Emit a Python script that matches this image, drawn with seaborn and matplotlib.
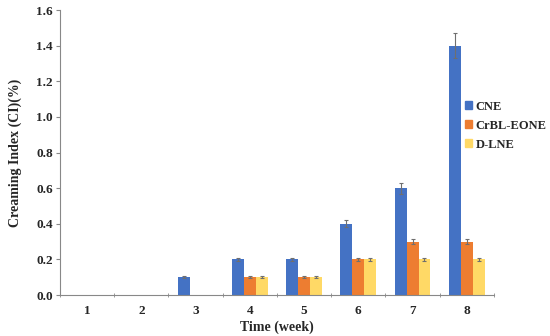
import pandas as pd
import matplotlib
matplotlib.use('Agg')
import matplotlib.pyplot as plt
import seaborn as sns

weeks = ['1', '2', '3', '4', '5', '6', '7', '8']
groups = ['CNE', 'CrBL-EONE', 'D-LNE']
cne = [0, 0, 0.1, 0.2, 0.2, 0.4, 0.6, 1.4]
crbl = [0, 0, 0, 0.1, 0.1, 0.2, 0.3, 0.3]
dlne = [0, 0, 0, 0.1, 0.1, 0.2, 0.2, 0.2]
cne_err = [0, 0, 0.004, 0.01, 0.01, 0.02, 0.03, 0.07]
crbl_err = [0, 0, 0, 0.004, 0.004, 0.01, 0.015, 0.015]
dlne_err = [0, 0, 0, 0.004, 0.004, 0.01, 0.01, 0.01]
colors = ['#4472C4', '#ED7D31', '#FFD966']

rows = []
for g, vals in zip(groups, [cne, crbl, dlne]):
    for w, v in zip(weeks, vals):
        rows.append({'week': w, 'group': g, 'ci': v})
df = pd.DataFrame(rows)

sns.set_style('ticks')
plt.rcParams['font.family'] = ['Liberation Serif', 'DejaVu Serif']
plt.rcParams['font.weight'] = 'bold'

fig = plt.figure(figsize=(5.5, 3.36), dpi=100)
ax = fig.add_axes([0.109, 0.122, 0.789, 0.848])
sns.barplot(data=df, x='week', y='ci', hue='group', order=weeks, hue_order=groups,
            palette=colors, width=0.66, linewidth=0, saturation=1, ax=ax, legend=False)

for cont, errs in zip(ax.containers, [cne_err, crbl_err, dlne_err]):
    for bar, e in zip(cont, errs):
        if bar.get_height() > 0:
            ax.errorbar(bar.get_x() + bar.get_width() / 2, bar.get_height(), yerr=e,
                        fmt='none', ecolor='#6f6f6f', elinewidth=0.8, capsize=1.5, capthick=0.8)

ax.set_ylim(0, 1.6)
ax.set_xlim(-0.5, 7.5)
ax.set_yticks([0, 0.2, 0.4, 0.6, 0.8, 1.0, 1.2, 1.4, 1.6])
ax.set_yticklabels(['%.1f' % t for t in ax.get_yticks()], fontsize=9.5, fontweight='bold')
ax.set_xticks(range(8))
ax.set_xticklabels(weeks, fontsize=9.5, fontweight='bold')
ax.set_xticks([k + 0.5 for k in range(-1, 8)], minor=True)
ax.tick_params(axis='x', which='major', length=0, pad=7)
ax.tick_params(axis='x', which='minor', length=3, direction='inout', color='#888888')
ax.tick_params(axis='y', length=3, color='#888888', pad=2)
ax.set_xlabel('Time (week)', fontsize=10, fontweight='bold', labelpad=3)
ax.set_ylabel('Creaming Index (CI)(%)', fontsize=10, fontweight='bold', labelpad=10)
sns.despine(ax=ax)
for s in ['left', 'bottom']:
    ax.spines[s].set_color('#888888')
    ax.spines[s].set_linewidth(0.8)

handles = [plt.Rectangle((0, 0), 1, 1, color=c) for c in colors]
fig.legend(handles, groups, loc='center left', bbox_to_anchor=(0.845, 0.626),
           frameon=False, handlelength=0.6, handleheight=0.6,
           handletextpad=0.25, borderpad=0, borderaxespad=0, labelspacing=0.55,
           prop={'weight': 'bold', 'size': 9})

fig.savefig('out.png', dpi=100)
